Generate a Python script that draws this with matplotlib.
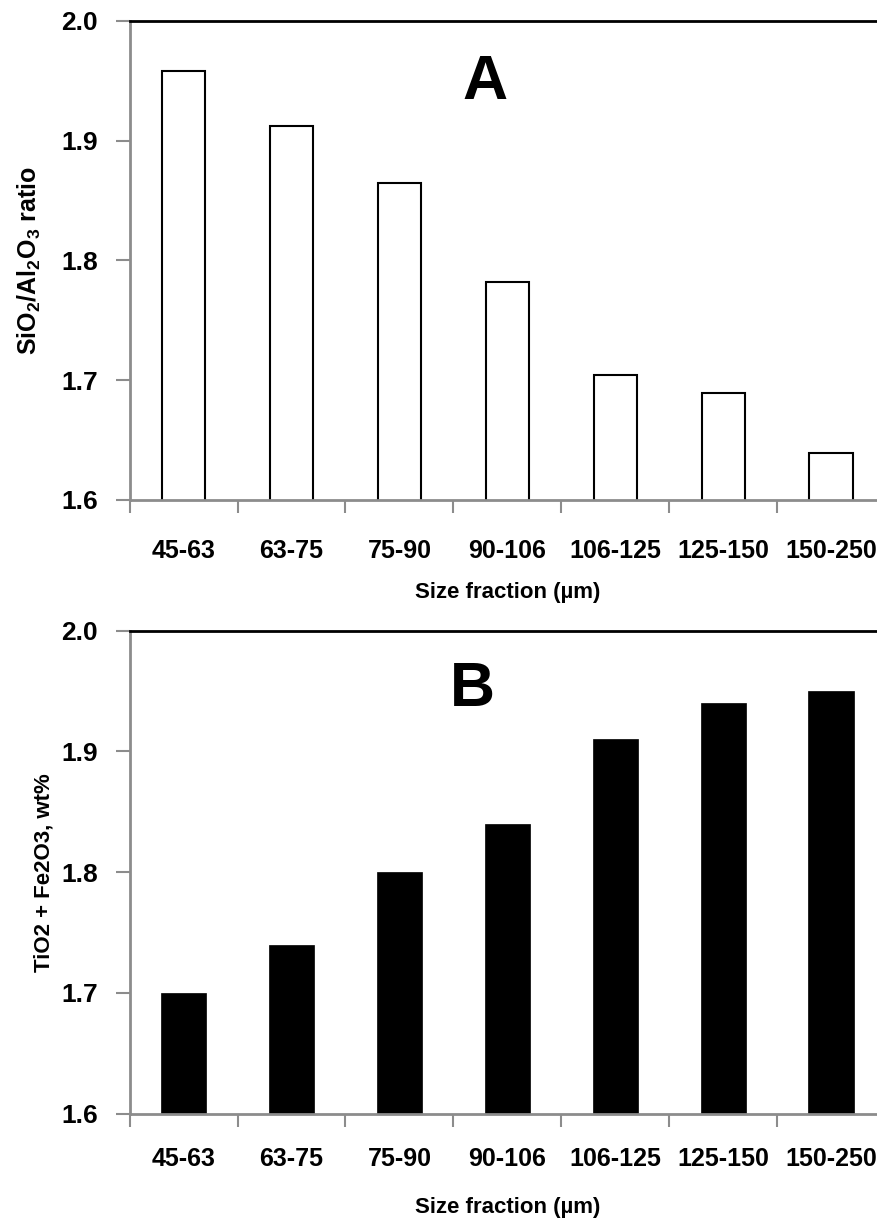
import numpy as np
import matplotlib
matplotlib.use('Agg')
import matplotlib.pyplot as plt

plt.rcParams['font.family'] = ['Liberation Sans', 'DejaVu Sans']
plt.rcParams['font.weight'] = 'bold'
plt.rcParams['mathtext.fontset'] = 'custom'
plt.rcParams['mathtext.rm'] = 'Liberation Sans:bold'
plt.rcParams['mathtext.bf'] = 'Liberation Sans:bold'
plt.rcParams['mathtext.default'] = 'rm'

fractions = ['45-63', '63-75', '75-90', '90-106', '106-125', '125-150', '150-250']
si_al_ratio = [1.958, 1.912, 1.865, 1.782, 1.704, 1.689, 1.639]
ti_fe_wt = [1.70, 1.74, 1.80, 1.84, 1.91, 1.94, 1.95]
yticks = [1.6, 1.7, 1.8, 1.9, 2.0]

gray = '#8c8c8c'
x = np.arange(len(fractions))

fig = plt.figure(figsize=(8.78, 12.2), dpi=100)
axA = fig.add_axes([0.1477, 0.5902, 0.8603, 0.3926])
axB = fig.add_axes([0.1477, 0.0871, 0.8603, 0.3959])


def style(ax, ylabel, ylsize, ylpad, xtpad, xlpad, letter, lx, ly):
    ax.set_xlim(-0.5, len(fractions) - 0.5)
    ax.set_ylim(1.6, 2.0)
    ax.set_yticks(yticks)
    ax.set_yticklabels(['%.1f' % v for v in yticks])
    ax.set_xticks(x)
    ax.set_xticklabels(fractions)
    ax.set_xticks(np.arange(len(fractions) + 1) - 0.5, minor=True)
    ax.tick_params(axis='x', which='major', length=0, pad=xtpad, labelsize=18)
    ax.tick_params(axis='x', which='minor', length=9, width=1.5, color=gray, direction='out')
    ax.tick_params(axis='y', length=10, width=1.5, color=gray, pad=13, labelsize=19)
    for s in ['left', 'bottom']:
        ax.spines[s].set_color(gray)
        ax.spines[s].set_linewidth(2)
    ax.spines['top'].set_color('black')
    ax.spines['top'].set_linewidth(2)
    ax.spines['right'].set_visible(False)
    ax.set_ylabel(ylabel, fontsize=ylsize, fontweight='bold', labelpad=ylpad)
    ax.set_xlabel('Size fraction (\u00b5m)', fontsize=16, fontweight='bold', labelpad=xlpad)
    ax.text(lx, ly, letter, fontsize=45, fontweight='bold', ha='center', va='center')


axA.bar(x, si_al_ratio, width=0.4, color='white', edgecolor='black', linewidth=1.5, zorder=2)
style(axA, r'SiO$_2$/Al$_2$O$_3$ ratio', 18, 13, 28, 14, 'A', 2.79, 1.949)

axB.bar(x, ti_fe_wt, width=0.42, color='black', edgecolor='black', linewidth=0.5, zorder=2)
style(axB, 'TiO2 + Fe2O3, wt%', 16, 5, 24, 19, 'B', 2.68, 1.951)

fig.savefig('out.png', dpi=100)
